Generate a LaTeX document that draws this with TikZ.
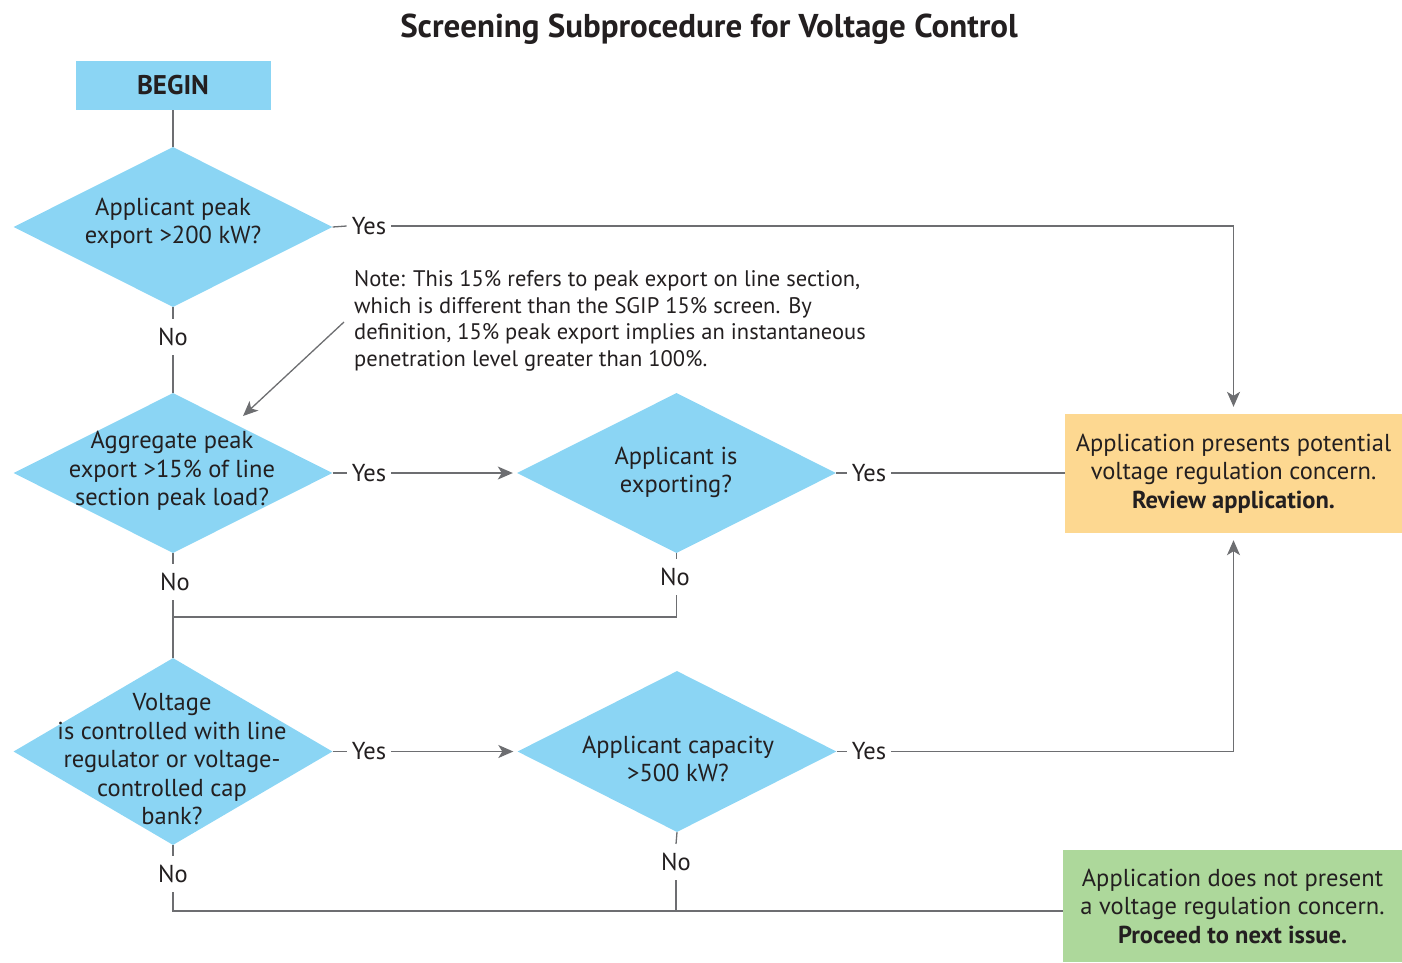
\documentclass[tikz,border=0pt]{standalone}
\usepackage{fontspec}
\setmainfont{PT Sans}
\usetikzlibrary{shapes.geometric,arrows.meta,calc}
\definecolor{qblue}{RGB}{139,213,244}
\definecolor{review}{RGB}{253,216,145}
\definecolor{pass}{RGB}{173,216,155}
\definecolor{wire}{RGB}{109,110,113}
\definecolor{ink}{RGB}{35,31,32}
\begin{document}
\begin{tikzpicture}[x=1pt,y=-1pt,
  every node/.style={font=\fontsize{24.5}{28.5}\selectfont, text=ink},
  dia/.style={diamond, fill=qblue, minimum width=319pt, minimum height=160pt, inner sep=0pt},
  qtext/.style={align=center, inner sep=0pt},
  startbox/.style={rectangle, fill=qblue, minimum width=195pt, minimum height=49pt, font=\fontsize{27}{30}\selectfont\bfseries},
  endbox/.style={rectangle, align=center, inner sep=0pt},
  lbl/.style={inner xsep=5pt, inner ysep=9pt},
  wireline/.style={draw=wire, line width=1.3pt},
  arr/.style={wireline, -{Stealth[length=15pt,width=13pt,inset=4pt]}}
]
\useasboundingbox (0,0) rectangle (1402,962);

% title
\node[font=\fontsize{33}{38}\selectfont\bfseries] (title) at (709,29) {Screening Subprocedure for Voltage Control};

% start and decisions
\node[startbox] (begin) at (173,85.5) {BEGIN};
\node[dia] (d1) at (173,227) {};
\node[qtext] (t1) at (173,223) {Applicant peak\\export >200 kW?};
\node[dia] (d2) at (173,473) {};
\node[qtext] (t2) at (172,471) {Aggregate peak\\export >15\% of line\\section peak load?};
\node[dia] (d3) at (676.5,473) {};
\node[qtext] (t3) at (676,472.5) {Applicant is\\exporting?};
\node[dia, minimum height=187pt] (d4) at (173,751.5) {};
\node[qtext] (t4) at (172,759.5) {Voltage\\is controlled with line\\regulator or voltage-\\controlled cap\\bank?};
\node[dia, minimum height=161pt] (d5) at (677,751.5) {};
\node[qtext] (t5) at (678,759) {Applicant capacity\\>500 kW?};

% outcomes
\node[endbox, fill=review, minimum width=337pt, minimum height=119pt] (rev) at (1233.5,473.5)
  {Application presents potential\\voltage regulation concern.\\\textbf{Review application.}};
\node[endbox, fill=pass, minimum width=339pt, minimum height=112pt] (ok) at (1232.5,906)
  {Application does not present\\a voltage regulation concern.\\\textbf{Proceed to next issue.}};

% note
\node[align=left, anchor=west, inner sep=0pt, font=\fontsize{22.5}{26.7}\selectfont] (note) at (354,321)
  {Note: This 15\% refers to peak export on line section,\\which is different than the SGIP 15\% screen. By\\definition, 15\% peak export implies an instantaneous\\penetration level greater than 100\%.};
\coordinate (na) at (344,322);
\coordinate (nb) at (243,416);

% branch labels
\node[lbl] (y1) at (369,226) {Yes};
\node[lbl] (n1) at (173,337) {No};
\node[lbl] (y2) at (369,473) {Yes};
\node[lbl] (y3) at (869,473) {Yes};
\node[lbl] (n2) at (175,582) {No};
\node[lbl] (n3) at (675,577) {No};
\node[lbl] (y4) at (369,751.5) {Yes};
\node[lbl] (y5) at (869,751.5) {Yes};
\node[lbl] (n4) at (173,874) {No};
\node[lbl] (n5) at (676,862) {No};
\coordinate (j1) at (173,617);
\coordinate (j2) at (173,911);

% connectors
\draw[wireline] (begin.south) -- (d1.north);
\draw[wireline] (d1.east) -- (y1.west);
\draw[arr, shorten >=7pt] (y1.east) -| (rev.north);
\draw[wireline] (d1.south) -- (n1.north);
\draw[wireline] (n1.south) -- (d2.north);
\draw[arr] (na) -- (nb);
\draw[wireline] (d2.east) -- (y2.west);
\draw[arr, shorten >=4pt] (y2.east) -- (y2.east -| d3.west);
\draw[wireline] (d3.east) -- (y3.west);
\draw[wireline] (y3.east) -- (y3.east -| rev.west);
\draw[wireline] (d2.south) -- (n2.north -| d2.south);
\draw[wireline] (n2.south -| d2.south) -- (d4.north);
\draw[wireline] (d3.south) -- (n3.north -| d3.south);
\draw[wireline] (n3.south -| d3.south) |- (j1);
\draw[wireline] (d4.east) -- (y4.west);
\draw[arr, shorten >=4pt] (y4.east) -- (y4.east -| d5.west);
\draw[wireline] (d5.east) -- (y5.west);
\draw[arr, shorten >=7pt] (y5.east) -| (rev.south);
\draw[wireline] (d4.south) -- (n4.north);
\draw[wireline] (n4.south) -- (j2) -- (j2 -| ok.west);
\draw[wireline] (d5.south) -- (n5.north);
\draw[wireline] (n5.south) -- (n5.south |- j2);
\end{tikzpicture}
\end{document}
